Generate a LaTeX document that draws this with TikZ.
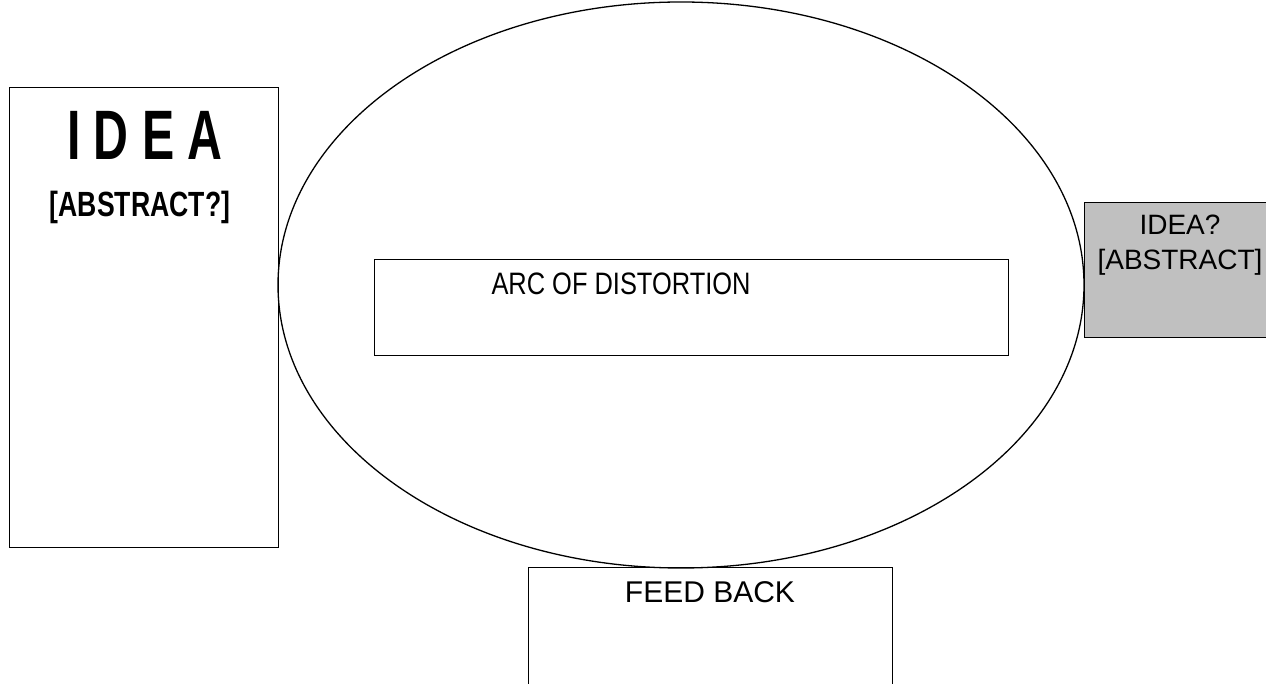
\documentclass[tikz,border=0pt]{standalone}
\usepackage{fontspec}
\setmainfont{Liberation Sans}
\usetikzlibrary{shapes.geometric}
\begin{document}
\begin{tikzpicture}[x=1pt,y=1pt,
  box/.style={draw=black,line width=1.3pt,inner sep=0pt,anchor=south west},
  lbl/.style={inner sep=0pt,anchor=base}]
\useasboundingbox (0,0) rectangle (1266,683);
\clip (0,0) rectangle (1266,683);
% left box
\node[box,minimum width=269pt,minimum height=460pt] (left) at (9,135) {};
\node[lbl,font=\fontsize{70}{80}\bfseries\selectfont,xscale=0.69] (idea) at (145,523) {I D E A};
\node[lbl,font=\fontsize{35}{40}\bfseries\selectfont,xscale=0.76] (abs) at (140,466) {[ABSTRACT?]};
% right grey box
\node[box,fill={rgb,255:red,192;green,192;blue,192},minimum width=190pt,minimum height=135pt] (right) at (1084,345) {};
\node[lbl,font=\fontsize{28}{32}\selectfont] (idea2) at (1180,448) {IDEA?};
\node[lbl,font=\fontsize{28}{32}\selectfont] (abs2) at (1180,413) {[ABSTRACT]};
% ellipse
\node[draw=black,line width=1.3pt,ellipse,inner sep=0pt,minimum width=806pt,minimum height=566pt] (arc) at (681,398) {};
% inner rectangle
\node[box,minimum width=634pt,minimum height=96pt] (inner) at (374,327) {};
\node[lbl,font=\fontsize{31}{34}\selectfont,xscale=0.82] (arct) at (621,388) {ARC OF DISTORTION};
% feedback box
\node[box,minimum width=364pt,minimum height=125pt] (fb) at (528,-10) {};
\node[lbl,font=\fontsize{30}{34}\selectfont] (fbt) at (710,81) {FEED BACK};
\end{tikzpicture}
\end{document}
